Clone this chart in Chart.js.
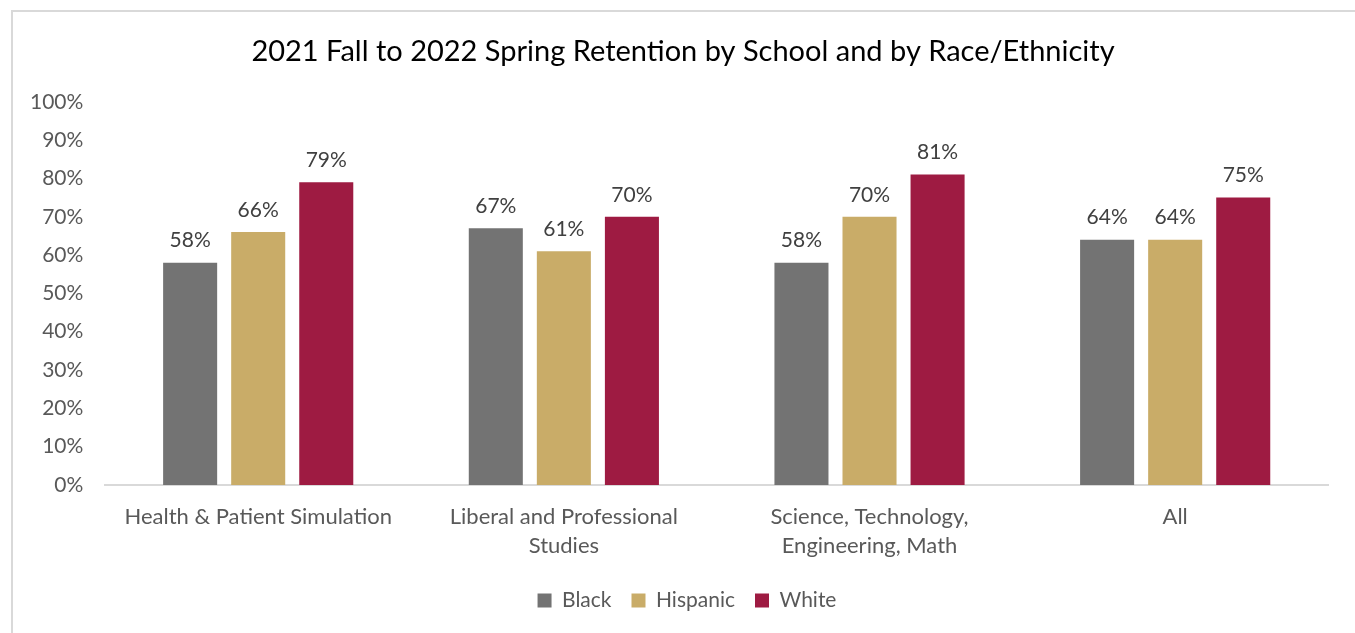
<!DOCTYPE html>
<html>
<head>
<meta charset="utf-8">
<script src="https://cdn.jsdelivr.net/npm/chart.js@4"></script>
<style>
  html, body { margin: 0; padding: 0; background: #fff; }
  #wrap { position: relative; width: 1355px; height: 633px; overflow: hidden; }
  #frame {
    position: absolute; left: 11px; top: 10px; width: 1400px; height: 700px;
    border: 2px solid #d9d9d9; box-sizing: border-box;
  }
  #chart { position: absolute; left: 0; top: 0; }
</style>
</head>
<body>
<div id="wrap">
  <div id="frame"></div>
  <canvas id="chart" width="1355" height="633"></canvas>
</div>
<script>
// Retention rate by school, split by race/ethnicity
const schools = [
  "Health & Patient Simulation",
  ["Liberal and Professional", "Studies"],
  ["Science, Technology,", "Engineering, Math"],
  "All",
];
const black = [58, 67, 58, 64];
const hispanic = [66, 61, 70, 64];
const white = [79, 70, 81, 75];
const yTicks = [0, 10, 20, 30, 40, 50, 60, 70, 80, 90, 100];

const FONT = "Lato, 'Open Sans', sans-serif";
const GREY = "#737373";
const GOLD = "#c9ac68";
const MAROON = "#9e1b42";

// draws the "58%" style labels above each bar
const barLabels = {
  id: "barLabels",
  afterDatasetsDraw(chart) {
    const ctx = chart.ctx;
    ctx.save();
    ctx.font = "21px " + FONT;
    ctx.fillStyle = "#404040";
    ctx.textAlign = "center";
    ctx.textBaseline = "middle";
    chart.data.datasets.forEach((ds, i) => {
      chart.getDatasetMeta(i).data.forEach((bar, j) => {
        ctx.fillText(ds.data[j] + "%", bar.x, bar.y - 22);
      });
    });
    ctx.restore();
  },
};

// title and legend sit centred on the whole frame, not on the layout box
const recentre = {
  id: "recentre",
  afterLayout(chart) {
    if (chart.titleBlock) chart.titleBlock.left += 30;
    if (chart.legend) chart.legend.left += 38;
  },
};

new Chart(document.getElementById("chart"), {
  type: "bar",
  data: {
    labels: schools,
    datasets: [
      { label: "Black", data: black, backgroundColor: GREY },
      { label: "Hispanic", data: hispanic, backgroundColor: GOLD },
      { label: "White", data: white, backgroundColor: MAROON },
    ],
  },
  options: {
    responsive: false,
    animation: false,
    devicePixelRatio: 1,
    categoryPercentage: 0.668,
    barPercentage: 0.794,
    layout: { padding: { left: 8, right: 27, top: 0, bottom: 12 } },
    plugins: {
      title: {
        display: true,
        text: "2021 Fall to 2022 Spring Retention by School and by Race/Ethnicity",
        color: "#000",
        font: { family: FONT, size: 29, weight: "normal" },
        padding: { top: 34, bottom: 33 },
      },
      legend: {
        position: "bottom",
        labels: {
          color: "#595959",
          font: { family: FONT, size: 21 },
          boxWidth: 14,
          boxHeight: 14,
          padding: 20,
        },
      },
      tooltip: { enabled: false },
    },
    scales: {
      x: {
        grid: { display: false, drawTicks: false },
        border: { display: true, color: "#d9d9d9", width: 2 },
        ticks: {
          color: "#595959",
          font: { family: FONT, size: 22, lineHeight: 1.32 },
          padding: 17,
          maxRotation: 0,
          autoSkip: false,
        },
        afterFit: (axis) => {
          axis.height -= 7;
        },
      },
      y: {
        min: 0,
        max: 100,
        afterBuildTicks: (axis) => {
          axis.ticks = yTicks.map((v) => ({ value: v }));
        },
        grid: { display: false, drawTicks: false },
        border: { display: false },
        ticks: {
          color: "#595959",
          font: { family: FONT, size: 21 },
          padding: 22,
          callback: (v) => v + "%",
        },
      },
    },
  },
  plugins: [barLabels, recentre],
});
</script>
</body>
</html>
